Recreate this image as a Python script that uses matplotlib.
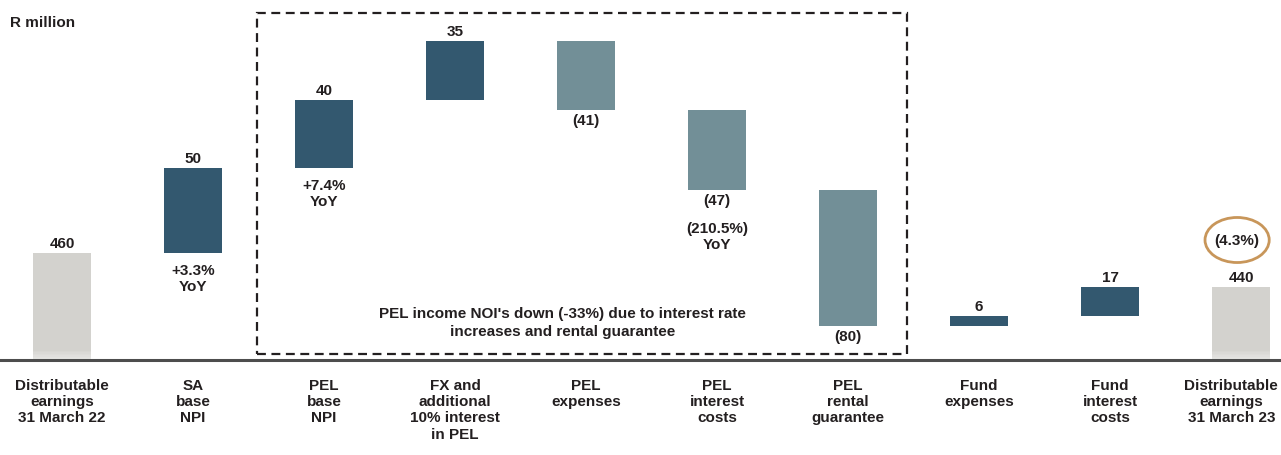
import matplotlib.pyplot as plt
from matplotlib.patches import Rectangle, Ellipse
import numpy as np

plt.rcParams['font.family'] = ['Liberation Sans', 'DejaVu Sans']
plt.rcParams['font.weight'] = 'bold'

categories = ['Distributable\nearnings\n31 March 22', 'SA\nbase\nNPI', 'PEL\nbase\nNPI',
              'FX and\nadditional\n10% interest\nin PEL', 'PEL\nexpenses', 'PEL\ninterest\ncosts',
              'PEL\nrental\nguarantee', 'Fund\nexpenses', 'Fund\ninterest\ncosts',
              'Distributable\nearnings\n31 March 23']
values = [460, 50, 40, 35, -41, -47, -80, 6, 17, 440]
value_labels = ['460', '50', '40', '35', '(41)', '(47)', '(80)', '6', '17', '440']
is_total = [True, False, False, False, False, False, False, False, False, True]
yoy_labels = {1: '+3.3%\nYoY', 2: '+7.4%\nYoY', 5: '(210.5%)\nYoY'}
change_label = '(4.3%)'
note = 'PEL income NOI\'s down (-33%) due to interest rate\nincreases and rental guarantee'

c_total = '#d3d2ce'
c_up = '#33586f'
c_down = '#728f97'
c_text = '#231f20'

base = 397.1  # truncated axis floor

fig = plt.figure(figsize=(12.81, 4.56), dpi=100)
ax = fig.add_axes([0, 0, 1, 1])

x = np.arange(len(values))
bottoms = []
heights = []
colors = []
level = 0
for i, v in enumerate(values):
    if is_total[i]:
        bottoms.append(base)
        heights.append(v - base)
        colors.append(c_total)
        level = v
    else:
        if v >= 0:
            bottoms.append(level)
            heights.append(v)
            colors.append(c_up)
        else:
            bottoms.append(level + v)
            heights.append(-v)
            colors.append(c_down)
        level += v

ax.bar(x, heights, bottom=bottoms, width=0.44, color=colors, zorder=2)

# fade at the foot of the total bars
for i in [0, 9]:
    for k in range(6):
        ax.add_patch(Rectangle((x[i] - 0.22, base + k * 0.9), 0.44, 0.9,
                               color='white', alpha=0.45 - k * 0.07, lw=0, zorder=3))

for i, v in enumerate(values):
    top = bottoms[i] + heights[i]
    if is_total[i] or v >= 0:
        ax.annotate(value_labels[i], (x[i], top), xytext=(0, 2), textcoords='offset points',
                    ha='center', va='bottom', fontsize=11, color=c_text)
        if i in yoy_labels:
            ax.annotate(yoy_labels[i], (x[i], bottoms[i]), xytext=(0, -7), textcoords='offset points',
                        ha='center', va='top', fontsize=11, color=c_text, linespacing=1.2)
    else:
        ax.annotate(value_labels[i], (x[i], bottoms[i]), xytext=(0, -2), textcoords='offset points',
                    ha='center', va='top', fontsize=11, color=c_text)
        if i in yoy_labels:
            ax.annotate(yoy_labels[i], (x[i], bottoms[i]), xytext=(0, -22), textcoords='offset points',
                        ha='center', va='top', fontsize=11, color=c_text, linespacing=1.2)

# circled change on the closing bar
ax.text(x[9] - 0.03, 467.7, change_label, ha='center', va='center', fontsize=11, color=c_text)
ax.add_patch(Ellipse((x[9] - 0.03, 467.7), 0.49, 26.5, fill=False,
                     edgecolor='#c8965a', lw=2, zorder=4))

# baseline
ax.axhline(base, color='#4d4d4d', lw=2.2, zorder=4)

# category labels
for i, c in enumerate(categories):
    dx = -7 if i == len(categories) - 1 else 0
    ax.annotate(c, (x[i], base), xytext=(dx, -13), textcoords='offset points',
                ha='center', va='top', fontsize=11, color=c_text, linespacing=1.2)

# dashed box around PEL items
ax.add_patch(Rectangle((1.489, base + 3.5), 4.96, 200.6, fill=False, edgecolor=c_text,
                       lw=1.6, ls=(0, (4, 2.5)), zorder=1))
ax.text(3.82, 419.5, note, ha='center', va='center', fontsize=11, color=c_text, linespacing=1.35)

ax.text(0.008, 0.95, 'R million', transform=ax.transAxes, ha='left', va='center',
        fontsize=11, color=c_text)

ax.set_xlim(-0.473, 9.305)
ax.set_ylim(341.2, 609.5)
ax.axis('off')

fig.savefig('out.png', dpi=100)
